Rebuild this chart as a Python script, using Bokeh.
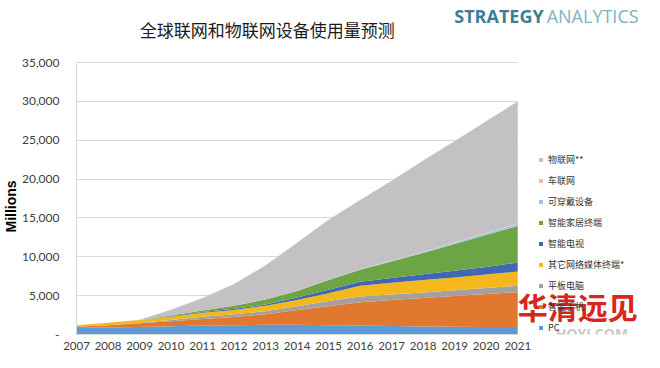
import math
from bokeh.plotting import figure
from bokeh.models import (ColumnDataSource, Range1d, FixedTicker, NumeralTickFormatter,
                          Legend, LegendItem, Label, Grid, Title)
from bokeh.embed import file_html
from bokeh.resources import INLINE

# ---- data (millions of devices) ----
years = list(range(2007, 2022))
pc     = [850, 900, 950, 1070, 1150, 1190, 1250, 1250, 1200, 1150, 1080, 1030, 1000, 970, 950]
phone  = [150, 300, 500, 630, 850, 1060, 1350, 1900, 2450, 3000, 3370, 3680, 3950, 4230, 4500]
tablet = [0, 0, 50, 150, 300, 350, 400, 500, 650, 750, 700, 700, 750, 780, 820]
media  = [200, 300, 350, 450, 500, 550, 700, 800, 1000, 1370, 1500, 1590, 1650, 1750, 1840]
tv     = [0, 0, 20, 50, 100, 150, 150, 300, 450, 530, 630, 740, 850, 970, 1150]
home   = [0, 0, 10, 100, 200, 400, 650, 850, 1250, 1520, 2120, 2760, 3450, 4100, 4710]
wear   = [0, 0, 0, 0, 0, 0, 5, 20, 40, 60, 90, 120, 160, 200, 250]
car    = [0, 0, 0, 0, 0, 0, 0, 10, 15, 20, 30, 40, 50, 60, 80]
iot    = [0, 0, 20, 750, 1600, 2800, 4400, 6170, 7695, 8900, 10280, 11740, 13040, 14390, 15700]

series_keys = ["pc", "phone", "tablet", "media", "tv", "home", "wear", "car", "iot"]
series_names = ["PC", "智能手机", "平板电脑", "其它网络媒体终端*", "智能电视",
                "智能家居终端", "可穿戴设备", "车联网", "物联网**"]
colors = ["#5B9BD5", "#E2772F", "#A3A09E", "#F4B81C", "#3F67B5",
          "#6DA544", "#9CC3E5", "#EDB9A0", "#C3C1C3"]
y_ticks = [0, 5000, 10000, 15000, 20000, 25000, 30000, 35000]

title_text = "全球联网和物联网设备使用量预测"
y_label = "Millions"

src = ColumnDataSource(dict(year=years, pc=pc, phone=phone, tablet=tablet, media=media,
                            tv=tv, home=home, wear=wear, car=car, iot=iot))

# ---- layout in pixels ----
W, H = 644, 352
FL, FB = 75, 18              # frame left / bottom border
X0_PX, X1_PX = 75, 517       # pixel of first / last year
Y0_PX, YT_PX = H - FB, 62    # pixel of 0 / of top tick
frame_right = W
px_per_year = (X1_PX - X0_PX) / (years[-1] - years[0])
px_per_unit = (Y0_PX - YT_PX) / y_ticks[-1]
x_end = years[0] + (frame_right - FL) / px_per_year
y_end = y_ticks[-1] + YT_PX / px_per_unit

p = figure(width=W, height=H, output_backend="svg", toolbar_location=None,
           x_range=Range1d(years[0], x_end), y_range=Range1d(0, y_end),
           min_border_left=FL, min_border_right=0, min_border_top=0, min_border_bottom=FB,
           background_fill_color="white", border_fill_color="white")
p.outline_line_color = None

# grid restricted to the data area
p.xgrid.visible = False
if "cross_bounds" in Grid.properties():
    p.ygrid.bounds = (y_ticks[0], y_ticks[-1])
    p.ygrid.cross_bounds = (years[0], years[-1])
    p.ygrid.grid_line_color = "#D9D9D9"
else:
    p.ygrid.visible = False
    p.segment(x0=years[0], x1=years[-1], y0=y_ticks[1:], y1=y_ticks[1:],
              line_color="#D9D9D9", line_width=1)

renderers = p.varea_stack(stackers=series_keys, x="year", color=colors, source=src)

# axes
p.xaxis.ticker = FixedTicker(ticks=years)
p.xaxis.bounds = (years[0], years[-1])
p.yaxis.ticker = FixedTicker(ticks=y_ticks)
p.yaxis.bounds = (y_ticks[0], y_ticks[-1])
p.yaxis.formatter = NumeralTickFormatter(format="0,0")
p.yaxis.major_label_overrides = {0: "-"}
for ax in (p.xaxis[0], p.yaxis[0]):
    ax.axis_line_color = "#D9D9D9"
    ax.major_tick_line_color = None
    ax.minor_tick_line_color = None
    ax.major_label_text_font = "Lato"
    ax.major_label_text_color = "#404040"
p.yaxis.major_label_text_font_size = "12px"
p.yaxis.major_label_standoff = 11
p.xaxis.major_label_text_font_size = "11.5px"
p.xaxis.major_label_standoff = 1

# y-axis title, placed along the lower part of the axis like the reference
p.add_layout(Title(text=y_label, align="left", offset=Y0_PX - 232, standoff=0,
                   text_font="Liberation Sans", text_font_style="bold",
                   text_font_size="14px", text_color="#000000"), "left")

# legend (top-to-bottom order reversed from stacking)
items = [LegendItem(label=n, renderers=[r]) for n, r in zip(series_names, renderers)][::-1]
legend = Legend(items=items, location=(537 - FL, 0), orientation="vertical",
                border_line_color=None, background_fill_alpha=0, padding=0, margin=0,
                spacing=8, label_height=12, glyph_height=5, glyph_width=5,
                label_standoff=5, label_text_font_size="9px",
                label_text_font="Noto Sans CJK SC", label_text_color="#333333")
p.add_layout(legend)

# helpers to turn pixels into data units for text annotations
def fx(px):
    return years[0] + (px - X0_PX) / px_per_year
def fy(py):
    return (Y0_PX - py) / px_per_unit

p.add_layout(Label(x=fx(266), y=fy(29), text=title_text, text_align="center",
                   text_baseline="middle", text_font="Noto Sans CJK SC",
                   text_font_size="17px", text_color="#1A1A1A"))
p.add_layout(Label(x=fx(543), y=fy(15), text="STRATEGY", text_align="right",
                   text_baseline="alphabetic", text_font="Open Sans",
                   text_font_style="bold", text_font_size="18px", text_color="#3C7F95"))
p.add_layout(Label(x=fx(546), y=fy(15), text="ANALYTICS", text_align="left",
                   text_baseline="alphabetic", text_font="Open Sans",
                   text_font_size="18px", text_color="#7DB2C2"))
# watermark
p.add_layout(Label(x=fx(517), y=fy(305), text="华清远见", text_align="left",
                   text_baseline="middle", text_font="Noto Sans CJK SC",
                   text_font_style="bold", text_font_size="30px", text_color="#D8261C"))
p.add_layout(Label(x=fx(555), y=fy(333), text="HQYJ.COM", text_align="left",
                   text_baseline="alphabetic", text_font="Open Sans",
                   text_font_style="bold", text_font_size="14px", text_color="#C8C8C8"))

open("out.html", "w").write(file_html(p, INLINE))
